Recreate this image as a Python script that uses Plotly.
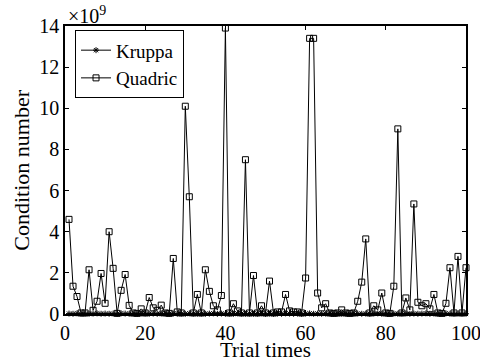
import plotly.graph_objects as go

trial = list(range(1, 101))

quadric = [
    4.6, 1.35, 0.85, 0.05, 0.05, 2.15, 0.18, 0.62, 1.97, 0.52,
    4.0, 2.22, 0.03, 1.15, 1.92, 0.42, 0.05, 0.03, 0.25, 0.05,
    0.8, 0.3, 0.18, 0.43, 0.05, 0.03, 2.7, 0.1, 0.05, 10.1,
    5.7, 0.05, 0.95, 0.05, 2.15, 1.1, 0.4, 0.2, 0.9, 13.9,
    0.05, 0.5, 0.15, 0.05, 7.5, 0.05, 1.87, 0.05, 0.4, 0.05,
    1.6, 0.05, 0.1, 0.1, 0.95, 0.15, 0.1, 0.1, 0.05, 1.75,
    13.4, 13.4, 1.02, 0.3, 0.5, 0.05, 0.03, 0.05, 0.2, 0.05,
    0.03, 0.05, 0.62, 1.55, 3.65, 0.05, 0.4, 0.2, 1.02, 0.05,
    0.03, 1.35, 9.0, 0.05, 0.78, 0.2, 5.35, 0.57, 0.4, 0.5,
    0.25, 0.95, 0.05, 0.03, 0.52, 2.25, 0.05, 2.8, 0.05, 2.25,
]

kruppa = [
    0.02, 0.01, 0.03, 0.01, 0.02, 0.01, 0.02, 0.03, 0.01, 0.02,
    0.01, 0.02, 0.01, 0.03, 0.02, 0.01, 0.02, 0.01, 0.02, 0.03,
    0.01, 0.02, 0.01, 0.02, 0.03, 0.01, 0.02, 0.01, 0.02, 0.01,
    0.03, 0.02, 0.01, 0.02, 0.01, 0.02, 0.03, 0.01, 0.02, 0.01,
    0.02, 0.01, 0.03, 0.02, 0.01, 0.02, 0.01, 0.02, 0.03, 0.01,
    0.02, 0.01, 0.02, 0.01, 0.03, 0.02, 0.01, 0.02, 0.01, 0.02,
    0.03, 0.01, 0.02, 0.01, 0.02, 0.03, 0.01, 0.02, 0.01, 0.02,
    0.01, 0.03, 0.02, 0.01, 0.02, 0.01, 0.02, 0.03, 0.01, 0.02,
    0.01, 0.02, 0.01, 0.03, 0.02, 0.01, 0.02, 0.01, 0.02, 0.03,
    0.01, 0.02, 0.01, 0.02, 0.03, 0.01, 0.02, 0.01, 0.02, 0.01,
]

x_ticks = [0, 20, 40, 60, 80, 100]
y_ticks = [0, 2, 4, 6, 8, 10, 12, 14]

FONT = "Liberation Serif"

fig = go.Figure()
fig.add_trace(go.Scatter(
    x=trial, y=kruppa, name="Kruppa", mode="lines+markers",
    line=dict(color="black", width=1),
    marker=dict(symbol="asterisk-open", size=5, color="black",
                line=dict(color="black", width=1)),
    cliponaxis=False,
))
fig.add_trace(go.Scatter(
    x=trial, y=quadric, name="Quadric", mode="lines+markers",
    line=dict(color="black", width=1),
    marker=dict(symbol="square-open", size=6, color="black",
                line=dict(color="black", width=1)),
    cliponaxis=False,
))

axis_common = dict(
    showgrid=False, zeroline=False, showline=True, linecolor="black",
    linewidth=1.5, mirror="ticks", ticks="inside", ticklen=4,
    tickcolor="black", tickfont=dict(family=FONT, size=20, color="black"),
    automargin=False, ticklabeloverflow="allow",
)

fig.update_xaxes(range=[0, 100], tickvals=x_ticks, **axis_common)
fig.update_yaxes(range=[0, 14], tickvals=y_ticks, **axis_common)

# axis titles
fig.add_annotation(
    x=0.5, y=-0.125, xref="paper", yref="paper", xanchor="center", yanchor="middle",
    text="Trial times", showarrow=False,
    font=dict(family=FONT, size=21, color="black"),
)
fig.add_annotation(
    x=-0.1105, y=0.5, xref="paper", yref="paper", xanchor="center", yanchor="middle",
    text="Condition number", showarrow=False, textangle=-90,
    font=dict(family=FONT, size=22, color="black"),
)
fig.add_annotation(
    x=0, y=1, xref="paper", yref="paper", xanchor="left", yanchor="bottom",
    text="×10<sup>9</sup>", showarrow=False, yshift=-3, xshift=1,
    font=dict(family=FONT, size=20, color="black"),
)

fig.update_layout(
    width=480, height=362,
    margin=dict(l=65, r=14, t=26, b=48, autoexpand=False),
    paper_bgcolor="white", plot_bgcolor="white",
    font=dict(family=FONT, size=20, color="black"),
    showlegend=True,
    legend=dict(x=0.025, y=0.985, xanchor="left", yanchor="top",
                bgcolor="white", bordercolor="black", borderwidth=1,
                font=dict(family=FONT, size=19, color="black"),
                itemwidth=30, tracegroupgap=0),
)

fig.write_html(
    "out.html",
    config={"displayModeBar": False},
    post_script="document.body.style.margin='0';document.body.style.overflow='hidden';",
)
